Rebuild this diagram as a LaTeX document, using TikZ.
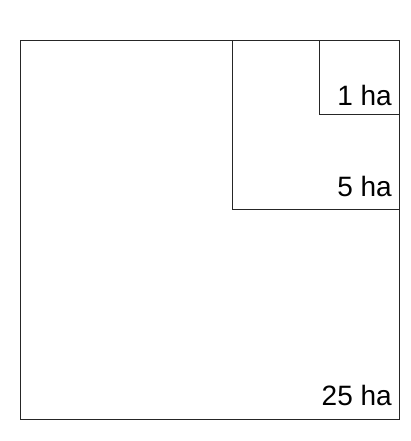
\documentclass[tikz,border=0pt]{standalone}
\usepackage{fontspec}
\setmainfont{Liberation Sans}
\usepackage{tikz}
\usetikzlibrary{positioning}

\begin{document}
\begin{tikzpicture}[
  x=1pt,y=-1pt,
  plot/.style={draw=black!85,line width=.8pt},
  lbl/.style={font=\fontsize{28}{33}\selectfont,anchor=base east,inner sep=0pt}
]
\useasboundingbox (0,0) rectangle (411,441);
\draw[plot] (20,40) rectangle (399,419);
\draw[plot] (232,40) rectangle (399,209);
\draw[plot] (319,40) rectangle (399,114);
\node[lbl] (one) at (392,106) {1 ha};
\node[lbl] (five) at (392,196) {5 ha};
\node[lbl] (twentyfive) at (392,405) {25 ha};
\end{tikzpicture}
\end{document}
